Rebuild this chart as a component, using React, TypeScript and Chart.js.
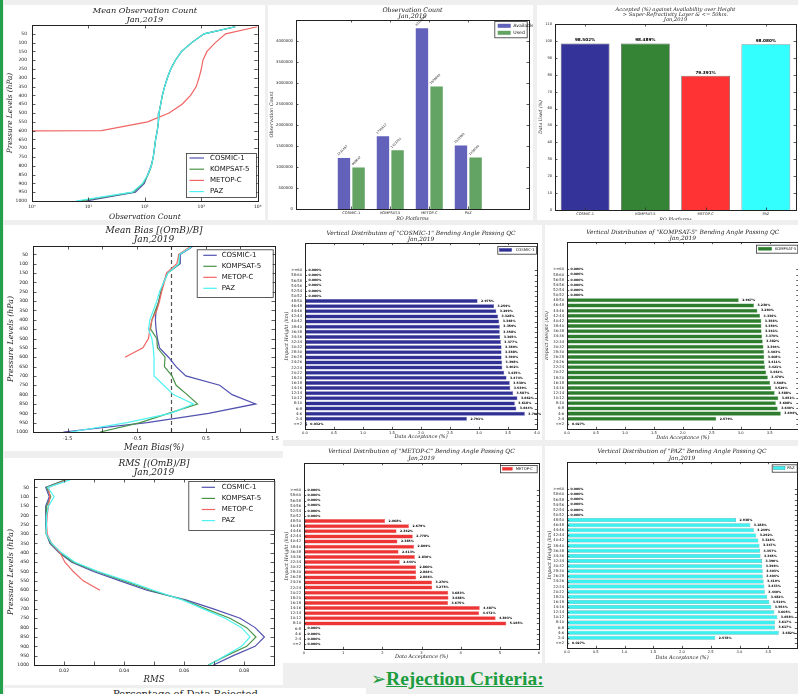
import { useEffect, useRef } from 'react';
import { Chart, registerables } from 'chart.js';

Chart.register(...registerables);

// ---------------- categories / ticks ----------------
const PLATFORMS = ['COSMIC-1', 'KOMPSAT-5', 'METOP-C', 'PAZ'];
const LEVELS = [10, 50, 100, 150, 200, 250, 300, 350, 400, 450, 500, 550, 600, 650, 700, 750, 800, 850, 900, 950, 1000];
const LEVEL_TICKS = [50, 100, 150, 200, 250, 300, 350, 400, 450, 500, 550, 600, 650, 700, 750, 800, 850, 900, 950, 1000];
const LOG_TICKS = [1, 10, 100, 1000, 10000];
const LOG_TICK_LABELS = ['10⁰', '10¹', '10²', '10³', '10⁴'];
const BIAS_TICKS = [-2, -1.5, -1, -0.5, 0, 0.5, 1, 1.5];
const BIAS_TICK_LABELS = ['', '-1.5', '', '-0.5', '', '0.5', '', '1.5'];
const RMS_TICKS = [0.01, 0.02, 0.03, 0.04, 0.05, 0.06, 0.07, 0.08, 0.09];
const RMS_TICK_LABELS = ['', '0.02', '', '0.04', '', '0.06', '', '0.08', ''];
const COUNT_TICKS = [0, 500000, 1000000, 1500000, 2000000, 2500000, 3000000, 3500000, 4000000, 4500000];
const PCT_TICKS = [0, 10, 20, 30, 40, 50, 60, 70, 80, 90, 100, 110];
const HEIGHT_BINS = ['<=2', '2-4', '4-6', '6-8', '8-10', '10-12', '12-14', '14-16', '16-18', '18-20', '20-22', '22-24', '24-26', '26-28', '28-30', '30-32', '32-34', '34-36', '36-38', '38-40', '40-42', '42-44', '44-46', '46-48', '48-50', '50-52', '52-54', '54-56', '56-58', '58-60', '>=60'];
const ACC_TICKS = [0, 0.5, 1, 1.5, 2, 2.5, 3, 3.5, 4];
const ACC_TICKS_METOP = [0, 1, 2, 3, 4, 5, 6];

// ---------------- mean observation count (per level) ----------------
const OBS_COSMIC = [3980, 1120, 676, 447, 347, 288, 251, 224, 204, 191, 178, 174, 166, 155, 148, 141, 129, 112, 98, 68, 9];
const OBS_KOMPSAT = [3980, 1120, 676, 447, 347, 288, 251, 224, 204, 191, 178, 174, 166, 155, 148, 141, 131, 115, 93, 63, 7];
const OBS_METOP = [9800, 2700, 1780, 1260, 1070, 1000, 912, 813, 646, 457, 269, 112, 17, 0, 0, 0, 0, 0, 0, 0, 0];
const OBS_PAZ = [3980, 1120, 676, 447, 347, 288, 251, 224, 204, 191, 178, 174, 166, 155, 148, 141, 130, 113, 91, 60, 6];

// ---------------- observation count bars ----------------
const COUNT_AVAILABLE = [1231457, 1745612, 4316890, 1523960];
const COUNT_USED = [999842, 1413201, 2928845, 1238044];

// ---------------- accepted percentage ----------------
const ACCEPTED_PCT = [98.502, 98.489, 79.391, 98.08];

// ---------------- mean bias (%) ----------------
const BIAS_COSMIC = [0.3, 0.13, 0.13, -0.06, -0.11, -0.15, -0.18, -0.22, -0.23, -0.22, -0.2, -0.17, -0.04, 0.07, 0.21, 0.7, 0.88, 1.22, 0.54, -0.35, -1.56];
const BIAS_KOMPSAT = [0.28, 0.11, 0.12, -0.05, -0.11, -0.15, -0.18, -0.23, -0.28, -0.3, -0.21, -0.2, -0.09, -0.1, 0.01, 0.07, 0.23, 0.38, -0.04, -0.45, -1.03];
const BIAS_METOP = [0.27, 0.11, 0.08, -0.07, -0.1, -0.14, -0.17, -0.21, -0.28, -0.31, -0.33, -0.41, -0.67];
const BIAS_PAZ = [0.29, 0.12, 0.11, -0.05, -0.11, -0.17, -0.21, -0.26, -0.31, -0.33, -0.28, -0.26, -0.25, -0.25, -0.25, -0.11, 0.03, 0.32, -0.01, -0.64, -1.46];

// ---------------- RMS ----------------
const RMS_COSMIC = [0.0203, 0.0139, 0.0151, 0.0139, 0.0139, 0.0139, 0.0142, 0.0153, 0.0184, 0.0226, 0.0298, 0.0387, 0.0476, 0.0603, 0.0698, 0.0787, 0.0837, 0.0868, 0.0837, 0.0764, 0.0698];
const RMS_KOMPSAT = [0.0203, 0.0142, 0.0156, 0.0142, 0.014, 0.014, 0.0142, 0.0156, 0.0187, 0.0231, 0.0309, 0.04, 0.0487, 0.0596, 0.0673, 0.0753, 0.0809, 0.084, 0.0809, 0.0742, 0.0681];
const RMS_METOP = [0.0209, 0.0148, 0.0153, 0.0148, 0.0144, 0.0142, 0.0144, 0.0159, 0.0187, 0.0203, 0.0231, 0.0264, 0.032];
const RMS_PAZ = [0.022, 0.0146, 0.0167, 0.0148, 0.0142, 0.014, 0.0142, 0.0159, 0.0192, 0.0237, 0.0314, 0.0409, 0.0498, 0.0592, 0.0664, 0.0737, 0.0792, 0.082, 0.0792, 0.0737, 0.0684];

// ---------------- vertical distribution (%), bottom bin first ----------------
const VD_COSMIC = [0.032, 2.791, 3.79, 3.644, 3.618, 3.662, 3.587, 3.539, 3.53, 3.474, 3.435, 3.402, 3.398, 3.39, 3.388, 3.389, 3.377, 3.365, 3.358, 3.359, 3.348, 3.328, 3.299, 3.259, 2.975, 0, 0, 0, 0, 0, 0];
const VD_KOMPSAT = [0.027, 2.579, 3.694, 3.64, 3.608, 3.651, 3.588, 3.529, 3.508, 3.47, 3.442, 3.421, 3.411, 3.408, 3.403, 3.394, 3.382, 3.37, 3.361, 3.359, 3.358, 3.336, 3.29, 3.23, 2.967, 0, 0, 0, 0, 0, 0];
const VD_METOP = [0, 0, 0, 0, 5.165, 4.893, 4.472, 4.487, 3.675, 3.688, 3.683, 3.275, 3.27, 2.866, 2.864, 2.86, 2.444, 2.83, 2.413, 2.809, 2.385, 2.778, 2.362, 2.679, 2.068, 0, 0, 0, 0, 0, 0];
const VD_PAZ = [0.027, 2.578, 3.682, 3.617, 3.617, 3.658, 3.605, 3.554, 3.519, 3.482, 3.44, 3.433, 3.419, 3.404, 3.403, 3.396, 3.39, 3.365, 3.357, 3.347, 3.328, 3.292, 3.249, 3.188, 2.938, 0, 0, 0, 0, 0, 0];

// ---------------- styles ----------------
const SERIF = '"DejaVu Serif", serif';
const SANS = '"DejaVu Sans", sans-serif';
const LINE_COLORS = ['#5252b0', '#4a944a', '#f26464', '#4ef2f2'];
const BAR_COLORS = ['#333399', '#358435', '#ff3333', '#33ffff'];

type LegendSpec = {
  kind: 'line' | 'box';
  items: { label: string; color: string; edge?: string }[];
  box: [number, number, number, number];
  first: number; row: number; sx: number; sw: number; sh?: number; tx: number; size: number;
};
type Deco = {
  titles: { text: string; y: number }[];
  titleSize: number;
  xLabel: { text: string; pos: number; size: number };
  yLabel: { text: string; pos: number; size: number };
  tickLen: number;
  legend?: LegendSpec;
  vline?: number;
  barLabels?: { mode: 'h' | 'v' | 'rot'; size: number; bold?: boolean; fmt: (v: number) => string };
};

function decoPlugin(d: Deco) {
  return {
    id: 'deco',
    beforeDatasetsDraw(chart: any) {
      if (d.vline === undefined) return;
      const { ctx, chartArea: a, scales } = chart;
      const px = Math.round(scales.x.getPixelForValue(d.vline)) + 0.5;
      ctx.save();
      ctx.strokeStyle = '#555';
      ctx.lineWidth = 1.2;
      ctx.setLineDash([4, 3]);
      ctx.beginPath();
      ctx.moveTo(px, a.top);
      ctx.lineTo(px, a.bottom);
      ctx.stroke();
      ctx.restore();
    },
    afterDatasetsDraw(chart: any) {
      const bl = d.barLabels;
      if (!bl) return;
      const { ctx } = chart;
      const horizontal = chart.options.indexAxis === 'y';
      ctx.save();
      ctx.fillStyle = '#000';
      ctx.font = `${bl.bold ? 'bold ' : ''}${bl.size}px ${SANS}`;
      chart.data.datasets.forEach((_ds: any, di: number) => {
        const meta = chart.getDatasetMeta(di);
        meta.data.forEach((el: any, i: number) => {
          const p = meta._parsed[i];
          const v = horizontal ? p.x : p.y;
          const s = bl.fmt(v);
          if (bl.mode === 'h') {
            ctx.textAlign = 'left';
            ctx.textBaseline = 'middle';
            ctx.fillText(s, el.x + 3.5, el.y);
          } else if (bl.mode === 'v') {
            ctx.textAlign = 'center';
            ctx.textBaseline = 'bottom';
            ctx.fillText(s, el.x, el.y - 1);
          } else {
            ctx.save();
            ctx.translate(el.x - 5, el.y - 1);
            ctx.rotate(-Math.PI / 4);
            ctx.textAlign = 'left';
            ctx.textBaseline = 'bottom';
            ctx.fillText(s, 0, 0);
            ctx.restore();
          }
        });
      });
      ctx.restore();
    },
    afterDraw(chart: any) {
      const { ctx, chartArea: a, scales } = chart;
      const xs = scales.x;
      const ys = scales.y;
      ctx.save();
      // inward ticks on all four sides
      ctx.strokeStyle = '#333';
      ctx.lineWidth = 0.8;
      ctx.beginPath();
      xs.ticks.forEach((_t: any, i: number) => {
        const p = Math.round(xs.getPixelForTick(i)) + 0.5;
        if (p < a.left - 1 || p > a.right + 1) return;
        ctx.moveTo(p, a.bottom);
        ctx.lineTo(p, a.bottom - d.tickLen);
        ctx.moveTo(p, a.top);
        ctx.lineTo(p, a.top + d.tickLen);
      });
      ys.ticks.forEach((_t: any, i: number) => {
        const p = Math.round(ys.getPixelForTick(i)) + 0.5;
        if (p < a.top - 1 || p > a.bottom + 1) return;
        ctx.moveTo(a.left, p);
        ctx.lineTo(a.left + d.tickLen, p);
        ctx.moveTo(a.right, p);
        ctx.lineTo(a.right - d.tickLen, p);
      });
      ctx.stroke();
      // frame
      ctx.strokeStyle = '#222';
      ctx.lineWidth = 1;
      const l = Math.round(a.left), t = Math.round(a.top), r = Math.round(a.right), b = Math.round(a.bottom);
      ctx.strokeRect(l + 0.5, t + 0.5, r - l, b - t);
      // titles
      ctx.fillStyle = '#222';
      ctx.textAlign = 'center';
      ctx.textBaseline = 'middle';
      const cx = (a.left + a.right) / 2;
      const cy = (a.top + a.bottom) / 2;
      ctx.font = `italic ${d.titleSize}px ${SERIF}`;
      d.titles.forEach((tl) => ctx.fillText(tl.text, cx, tl.y));
      ctx.font = `italic ${d.xLabel.size}px ${SERIF}`;
      ctx.fillText(d.xLabel.text, cx, d.xLabel.pos);
      ctx.save();
      ctx.translate(d.yLabel.pos, cy);
      ctx.rotate(-Math.PI / 2);
      ctx.font = `italic ${d.yLabel.size}px ${SERIF}`;
      ctx.fillText(d.yLabel.text, 0, 0);
      ctx.restore();
      // legend
      const L = d.legend;
      if (L) {
        const [bx, by, bw, bh] = L.box;
        ctx.fillStyle = '#fff';
        ctx.fillRect(bx, by, bw, bh);
        ctx.strokeStyle = '#333';
        ctx.lineWidth = 0.8;
        ctx.strokeRect(bx + 0.5, by + 0.5, bw, bh);
        ctx.font = `${L.size}px ${SANS}`;
        ctx.textAlign = 'left';
        ctx.textBaseline = 'middle';
        L.items.forEach((it, k) => {
          const ry = by + L.first + k * L.row;
          if (L.kind === 'line') {
            ctx.strokeStyle = it.color;
            ctx.lineWidth = 1.2;
            ctx.beginPath();
            ctx.moveTo(bx + L.sx, ry);
            ctx.lineTo(bx + L.sx + L.sw, ry);
            ctx.stroke();
          } else {
            const sh = L.sh || 3;
            ctx.fillStyle = it.color;
            ctx.fillRect(bx + L.sx, ry - sh / 2, L.sw, sh);
            if (it.edge) {
              ctx.strokeStyle = it.edge;
              ctx.lineWidth = 0.5;
              ctx.strokeRect(bx + L.sx, ry - sh / 2, L.sw, sh);
            }
          }
          ctx.fillStyle = '#111';
          ctx.fillText(it.label, bx + L.tx, ry);
        });
      }
      ctx.restore();
    },
  };
}

// fixes the plot rectangle inside a canvas of W x H: left L, top T, right R, bottom B
function area(W: number, H: number, L: number, T: number, R: number, B: number) {
  return {
    padding: { top: T, right: W - R, left: 0, bottom: 0 },
    yFit: (s: any) => { s.width = L; },
    xFit: (s: any) => { s.height = H - B; },
  };
}

const plain = (v: number) => String(v);

function axis(size: number, pad: number, fit: (s: any) => void, extra: any = {}, tickExtra: any = {}) {
  return {
    grid: { display: false, drawTicks: false },
    border: { display: false },
    afterFit: fit,
    ...extra,
    ticks: { font: { family: SANS, size }, color: '#222', padding: pad, autoSkip: false, maxRotation: 0, minRotation: 0, callback: plain, ...tickExtra },
  };
}

const setTicks = (values: number[]) => (s: any) => { s.ticks = values.map((value) => ({ value })); };

function baseOptions(pad: any, scales: any, extra: any = {}) {
  return {
    responsive: false,
    animation: false,
    events: [],
    layout: { padding: pad },
    plugins: { legend: { display: false }, tooltip: { enabled: false }, title: { display: false } },
    scales,
    ...extra,
  };
}

function profileSets(series: number[][], logSafe = false) {
  return series.map((arr, k) => ({
    label: PLATFORMS[k],
    data: arr.map((v, i) => ({ x: logSafe && v <= 0 ? 1e-30 : v, y: LEVELS[i] })),
    borderColor: LINE_COLORS[k],
    borderWidth: 1.2,
    pointRadius: 0,
    fill: false,
    tension: 0,
    order: 4 - k,
  }));
}

const lineLegendItems = PLATFORMS.map((p, k) => ({ label: p, color: LINE_COLORS[k] }));

// ---------- chart 1 : mean observation count ----------
function makeObsProfile() {
  const A = area(261, 215, 28, 20, 255, 196);
  return {
    type: 'line',
    data: { datasets: profileSets([OBS_COSMIC, OBS_KOMPSAT, OBS_METOP, OBS_PAZ], true) },
    options: baseOptions(A.padding, {
      x: axis(4.5, 3.5, A.xFit, { type: 'logarithmic', min: 1, max: 10000, afterBuildTicks: setTicks(LOG_TICKS) },
        { callback: (v: number) => LOG_TICK_LABELS[LOG_TICKS.indexOf(v)] ?? '' }),
      y: axis(4.5, 5, A.yFit, { type: 'linear', reverse: true, min: 0, max: 1000, afterBuildTicks: setTicks(LEVEL_TICKS) }),
    }),
    plugins: [decoPlugin({
      titles: [{ text: 'Mean Observation Count', y: 6 }, { text: 'Jan,2019', y: 15 }],
      titleSize: 8.2,
      xLabel: { text: 'Observation Count', pos: 212, size: 7.5 },
      yLabel: { text: 'Pressure Levels (hPa)', pos: 6, size: 7.3 },
      tickLen: 3.5,
      legend: { kind: 'line', items: lineLegendItems, box: [182, 148, 70, 44], first: 5, row: 11.2, sx: 3.5, sw: 14.5, tx: 24, size: 7 },
    })],
  };
}

// ---------- chart 2 : observation count bars ----------
function makeObsBars() {
  const A = area(265, 215, 28, 15, 261, 204);
  const ds = (vals: number[], label: string, color: string) => ({
    label,
    data: vals.map((v, i) => ({ x: i, y: v })),
    backgroundColor: color,
    borderColor: '#f4f4fb',
    borderWidth: 0.6,
    barPercentage: 0.93,
    categoryPercentage: 0.75,
  });
  return {
    type: 'bar',
    data: { datasets: [ds(COUNT_AVAILABLE, 'Available', '#6262ba'), ds(COUNT_USED, 'Used', '#63a363')] },
    options: baseOptions(A.padding, {
      x: axis(3.6, 2, A.xFit, { type: 'linear', min: -0.67, max: 3.81, afterBuildTicks: setTicks([0, 1, 2, 3]) },
        { callback: (v: number) => PLATFORMS[v] ?? '' }),
      y: axis(3.8, 3, A.yFit, { type: 'linear', min: 0, max: 4500000, afterBuildTicks: setTicks(COUNT_TICKS) },
        { callback: (v: number) => (v >= 4500000 ? '' : String(v)) }),
    }),
    plugins: [decoPlugin({
      titles: [{ text: 'Observation Count', y: 5 }, { text: 'Jan,2019', y: 11 }],
      titleSize: 6.3,
      xLabel: { text: 'RO Platforms', pos: 213.5, size: 4.8 },
      yLabel: { text: 'Observation Count', pos: 4, size: 4.8 },
      tickLen: 2.5,
      legend: {
        kind: 'box', box: [226.3, 16, 32.4, 16.3], first: 4.8, row: 7, sx: 3.4, sw: 13, sh: 4, tx: 19, size: 4.6,
        items: [{ label: 'Available', color: '#6262ba' }, { label: 'Used', color: '#63a363' }],
      },
      barLabels: { mode: 'rot', size: 3, fmt: (v) => String(Math.round(v)) },
    })],
  };
}

// ---------- chart 3 : accepted percentage ----------
function makeAccepted() {
  const A = area(261, 215, 18, 19, 259, 205);
  return {
    type: 'bar',
    data: {
      labels: PLATFORMS,
      datasets: [{
        label: 'Accepted',
        data: ACCEPTED_PCT,
        backgroundColor: BAR_COLORS,
        borderColor: '#555',
        borderWidth: 0.7,
        barPercentage: 0.81,
        categoryPercentage: 1,
      }],
    },
    options: baseOptions(A.padding, {
      x: axis(3.6, 2, A.xFit, { type: 'category' }, { callback: (_v: number, i: number) => PLATFORMS[i] }),
      y: axis(3.6, 3, A.yFit, { type: 'linear', min: 0, max: 110, afterBuildTicks: setTicks(PCT_TICKS) }),
    }),
    plugins: [decoPlugin({
      titles: [
        { text: 'Accepted (%) against Availability over Height', y: 4.3 },
        { text: '> Super-Refractivity Layer & <= 50km.', y: 10 },
        { text: 'Jan,2019', y: 15 },
      ],
      titleSize: 5.2,
      xLabel: { text: 'RO Platforms', pos: 214.5, size: 4.8 },
      yLabel: { text: 'Data Used (%)', pos: 4, size: 4.6 },
      tickLen: 2.5,
      barLabels: { mode: 'v', size: 4.2, bold: true, fmt: (v) => v.toFixed(3) + '%' },
    })],
  };
}

// ---------- charts 4 and 7 : bias / rms profiles ----------
function makeBias() {
  const A = area(279, 226, 29, 21, 271, 207);
  return {
    type: 'line',
    data: { datasets: profileSets([BIAS_COSMIC, BIAS_KOMPSAT, BIAS_METOP, BIAS_PAZ]) },
    options: baseOptions(A.padding, {
      x: axis(5, 3.5, A.xFit, { type: 'linear', min: -2, max: 1.5, afterBuildTicks: setTicks(BIAS_TICKS) },
        { callback: (v: number) => BIAS_TICK_LABELS[BIAS_TICKS.indexOf(v)] ?? '' }),
      y: axis(4.6, 5, A.yFit, { type: 'linear', reverse: true, min: 5, max: 1000, afterBuildTicks: setTicks(LEVEL_TICKS) }),
    }),
    plugins: [decoPlugin({
      titles: [{ text: 'Mean Bias [(OmB)/B]', y: 5.3 }, { text: 'Jan,2019', y: 14.3 }],
      titleSize: 9,
      xLabel: { text: 'Mean Bias(%)', pos: 222.5, size: 8.5 },
      yLabel: { text: 'Pressure Levels (hPa)', pos: 7, size: 7.8 },
      tickLen: 3.5,
      vline: 0,
      legend: { kind: 'line', items: lineLegendItems, box: [192.7, 24.3, 76, 47.7], first: 6, row: 11, sx: 6.6, sw: 13.4, tx: 25, size: 7 },
    })],
  };
}

function makeRms() {
  const A = area(279, 227, 30, 21, 270, 207);
  return {
    type: 'line',
    data: { datasets: profileSets([RMS_COSMIC, RMS_KOMPSAT, RMS_METOP, RMS_PAZ]) },
    options: baseOptions(A.padding, {
      x: axis(4.6, 3.5, A.xFit, { type: 'linear', min: 0.01, max: 0.09, afterBuildTicks: setTicks(RMS_TICKS) },
        { callback: (v: number) => RMS_TICK_LABELS[RMS_TICKS.findIndex((t) => Math.abs(t - v) < 1e-9)] ?? '' }),
      y: axis(4.6, 5, A.yFit, { type: 'linear', reverse: true, min: 5, max: 1000, afterBuildTicks: setTicks(LEVEL_TICKS) }),
    }),
    plugins: [decoPlugin({
      titles: [{ text: 'RMS [(OmB)/B]', y: 5.3 }, { text: 'Jan,2019', y: 14.3 }],
      titleSize: 9,
      xLabel: { text: 'RMS', pos: 222, size: 8.5 },
      yLabel: { text: 'Pressure Levels (hPa)', pos: 7, size: 7.8 },
      tickLen: 3.5,
      legend: { kind: 'line', items: lineLegendItems, box: [184.3, 23, 86, 49], first: 6.3, row: 11.1, sx: 13.4, sw: 13.3, tx: 33.4, size: 7 },
    })],
  };
}

// ---------- charts 5,6,8,9 : vertical distribution ----------
function makeVD(opts: {
  name: string; values: number[]; color: string; edge: string;
  W: number; H: number; L: number; T: number; R: number; B: number;
  xMax: number; xTicks: number[]; xFmt: (v: number) => string; hideLast: boolean;
  titleY: [number, number]; xLabelY: number; yLabelX: number;
  legendBox: [number, number, number, number]; lsx: number; lsw: number; ltx: number; lfirst: number;
}) {
  const A = area(opts.W, opts.H, opts.L, opts.T, opts.R, opts.B);
  const idx = HEIGHT_BINS.map((_b, i) => i);
  return {
    type: 'bar',
    data: {
      datasets: [{
        label: opts.name,
        data: opts.values.map((v, i) => ({ x: v, y: i })),
        backgroundColor: opts.color,
        borderColor: opts.edge,
        borderWidth: 0.5,
        barPercentage: 0.78,
        categoryPercentage: 1,
      }],
    },
    options: baseOptions(A.padding, {
      x: axis(3.7, 1.5, A.xFit, { type: 'linear', min: 0, max: opts.xMax, afterBuildTicks: setTicks(opts.xTicks) },
        { callback: (v: number) => (opts.hideLast && v === opts.xMax ? '' : opts.xFmt(v)) }),
      y: axis(3.7, 3, A.yFit, { type: 'linear', min: -0.4, max: 34.75, afterBuildTicks: setTicks(idx) },
        { callback: (v: number) => HEIGHT_BINS[v] ?? '' }),
    }, { indexAxis: 'y' }),
    plugins: [decoPlugin({
      titles: [{ text: `Vertical Distribution of "${opts.name}" Bending Angle Passing QC`, y: opts.titleY[0] }, { text: 'Jan,2019', y: opts.titleY[1] }],
      titleSize: 5.9,
      xLabel: { text: 'Data Acceptance (%)', pos: opts.xLabelY, size: 5 },
      yLabel: { text: 'Impact Height (km)', pos: opts.yLabelX, size: 4.9 },
      tickLen: 2.2,
      legend: {
        kind: 'box', box: opts.legendBox, first: opts.lfirst, row: 7, sx: opts.lsx, sw: opts.lsw, sh: 3, tx: opts.ltx, size: 3.8,
        items: [{ label: opts.name, color: opts.color, edge: opts.edge }],
      },
      barLabels: { mode: 'h', size: 3.1, bold: true, fmt: (v) => v.toFixed(3) + '%' },
    })],
  };
}

const fmt1 = (v: number) => v.toFixed(1);
const fmt0 = (v: number) => String(v);

const makeVDCosmic = () => makeVD({
  name: 'COSMIC-1', values: VD_COSMIC, color: '#2f2f94', edge: '#4a4aa8',
  W: 259, H: 215, L: 22, T: 18, R: 254, B: 204, xMax: 4, xTicks: ACC_TICKS, xFmt: fmt1, hideLast: false,
  titleY: [8.7, 14.3], xLabelY: 212, yLabelX: 3.7, legendBox: [214.3, 21, 38.7, 7.7], lsx: 2, lsw: 12.4, ltx: 18.4, lfirst: 3.9,
});
const makeVDKompsat = () => makeVD({
  name: 'KOMPSAT-5', values: VD_KOMPSAT, color: '#2e7d2e', edge: '#3e8e3e',
  W: 255, H: 215, L: 22, T: 17, R: 254, B: 204, xMax: 4, xTicks: ACC_TICKS, xFmt: fmt1, hideLast: true,
  titleY: [7, 13], xLabelY: 213, yLabelX: 2, legendBox: [211, 19.7, 41.3, 8], lsx: 2.3, lsw: 13.4, ltx: 19, lfirst: 4,
});
const makeVDMetop = () => makeVD({
  name: 'METOP-C', values: VD_METOP, color: '#ee3535', edge: '#f05858',
  W: 259, H: 217, L: 21, T: 17, R: 256, B: 203, xMax: 6, xTicks: ACC_TICKS_METOP, xFmt: fmt0, hideLast: false,
  titleY: [5, 12.3], xLabelY: 210.7, yLabelX: 3.7, legendBox: [217, 19, 36.7, 7.3], lsx: 2.3, lsw: 10, ltx: 15.7, lfirst: 3.7,
});
const makeVDPaz = () => makeVD({
  name: 'PAZ', values: VD_PAZ, color: '#3ff0f0', edge: '#2a9e9e',
  W: 255, H: 217, L: 22, T: 16, R: 252, B: 202, xMax: 4, xTicks: ACC_TICKS, xFmt: fmt1, hideLast: true,
  titleY: [5, 12.3], xLabelY: 211.3, yLabelX: 5, legendBox: [226.7, 18.3, 25, 7.4], lsx: 2, lsw: 11.3, ltx: 15.6, lfirst: 3.7,
});

function Panel({ x, y, w, h, make }: { x: number; y: number; w: number; h: number; make: () => any }) {
  const ref = useRef<HTMLCanvasElement>(null);
  useEffect(() => {
    const chart = new Chart(ref.current as HTMLCanvasElement, make());
    return () => chart.destroy();
  }, []);
  return (
    <div style={{ position: 'absolute', left: x, top: y, width: w, height: h, background: '#fff', overflow: 'hidden' }}>
      <canvas ref={ref} width={w} height={h} style={{ display: 'block' }} />
    </div>
  );
}

export default function App() {
  return (
    <div style={{ position: 'fixed', left: 0, top: 0, width: 798, height: 694, overflow: 'hidden', background: '#efefef' }}>
      <div style={{ position: 'absolute', left: 30, top: -26, font: `22px ${SERIF}`, color: '#111', whiteSpace: 'nowrap' }}>
        Frequency and Daily Frequency
      </div>
      <div style={{ position: 'absolute', left: 0, top: 0, width: 3, height: 694, background: '#22a04b' }} />
      <Panel x={4} y={5} w={261} h={215} make={makeObsProfile} />
      <Panel x={268} y={5} w={265} h={215} make={makeObsBars} />
      <Panel x={537} y={5} w={261} h={215} make={makeAccepted} />
      <Panel x={4} y={225} w={279} h={226} make={makeBias} />
      <Panel x={4} y={458} w={279} h={227} make={makeRms} />
      <Panel x={283} y={225} w={259} h={215} make={makeVDCosmic} />
      <Panel x={545} y={225} w={255} h={215} make={makeVDKompsat} />
      <Panel x={283} y={446} w={259} h={217} make={makeVDMetop} />
      <Panel x={545} y={446} w={255} h={217} make={makeVDPaz} />
      <div style={{ position: 'absolute', left: 5, top: 688, width: 361, height: 10, background: '#fff', overflow: 'hidden' }}>
        <div style={{ position: 'absolute', left: 0, width: 361, top: 0, textAlign: 'center', font: `10px ${SERIF}`, color: '#222', lineHeight: '12px' }}>
          Percentage of Data Rejected
        </div>
      </div>
      <div style={{ position: 'absolute', left: 371, top: 668, color: '#1c9c3e', whiteSpace: 'nowrap', lineHeight: '24px' }}>
        <span style={{ font: `18px ${SANS}` }}>➢</span>
        <span style={{ font: `bold 19.5px "Liberation Serif", serif`, textDecoration: 'underline' }}>Rejection Criteria:</span>
      </div>
    </div>
  );
}
